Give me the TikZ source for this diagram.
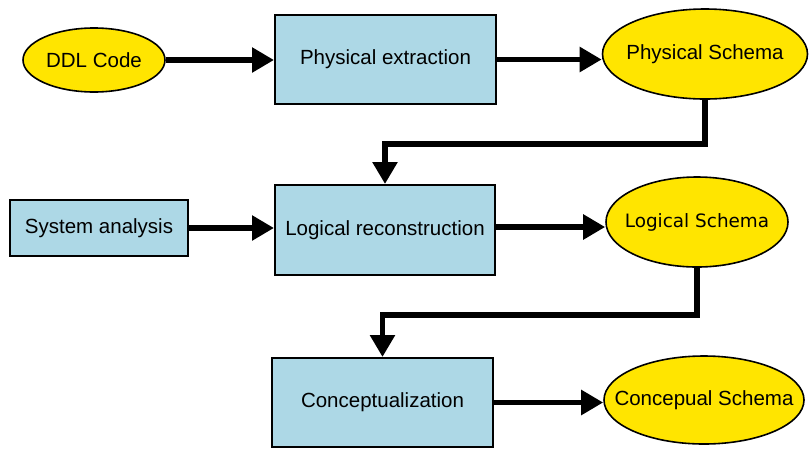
\documentclass[tikz,border=0pt]{standalone}
\usepackage{fontspec}
\setmainfont{Liberation Sans}
\newfontfamily\dejavu{DejaVu Sans}
\usetikzlibrary{shapes.geometric,arrows.meta,calc}
\definecolor{schemayellow}{HTML}{FFE500}
\definecolor{stepblue}{HTML}{ADD8E6}
\newcommand{\zw}[1]{\makebox[0pt]{#1}}
\begin{document}
\begin{tikzpicture}[x=1pt,y=-1pt,
  lbl/.style={font=\fontsize{20.5}{24}\selectfont, text=black},
  stepbox/.style={draw=black, line width=2pt, fill=stepblue, rectangle, inner sep=0pt, lbl},
  datum/.style={draw=black, line width=1.6pt, fill=schemayellow, ellipse, inner sep=0pt, lbl},
  flow/.style={line width=5.5pt, -{Triangle[length=22pt, width=24pt]}},
]
\useasboundingbox (0,0) rectangle (809,451);

% data artefacts
\node[datum, minimum width=142pt, minimum height=64pt] (ddl) at (94,60) {\zw{DDL Code}};
\node[datum, minimum width=205pt, minimum height=90pt] (ps) at (705,54) {\zw{Physical Schema}};
\node[datum, minimum width=182pt, minimum height=90pt, font=\dejavu\fontsize{18.4}{22}\selectfont] (ls) at (697,222) {\zw{Logical Schema}};
\node[datum, minimum width=200pt, minimum height=88pt] (cs) at (704,400) {\zw{Concepual Schema}};

% processing steps
\node[stepbox, minimum width=221pt, minimum height=89pt] (pe) at (385.5,59.5) {Physical extraction};
\node[stepbox, minimum width=178pt, minimum height=56pt] (sa) at (99,228) {System analysis};
\node[stepbox, minimum width=220pt, minimum height=90pt] (lr) at (385,230) {Logical reconstruction};
\node[stepbox, minimum width=221pt, minimum height=89pt] (cz) at (382.5,402.5) {Conceptualization};

% turning points of the feedback connectors
\coordinate (psturn) at ($(ps.south)+(0,44)$);
\coordinate (lsturn) at ($(ls.south)+(0,47)$);

% connectors
\draw[flow] (ddl.east) -- (ddl.east -| pe.west);
\draw[flow] (pe.east) -- (pe.east -| ps.west);
\draw[flow] (ps.south) -- (psturn) -| (lr.north);
\draw[flow] (sa.east) -- (sa.east -| lr.west);
\draw[flow] ($(lr.east)+(0,-3)$) -- ($(lr.east -| ls.west)+(0,-3)$);
\draw[flow] (ls.south) -- (lsturn) -| (cz.north);
\draw[flow] (cz.east) -- (cz.east -| cs.west);
\end{tikzpicture}
\end{document}
